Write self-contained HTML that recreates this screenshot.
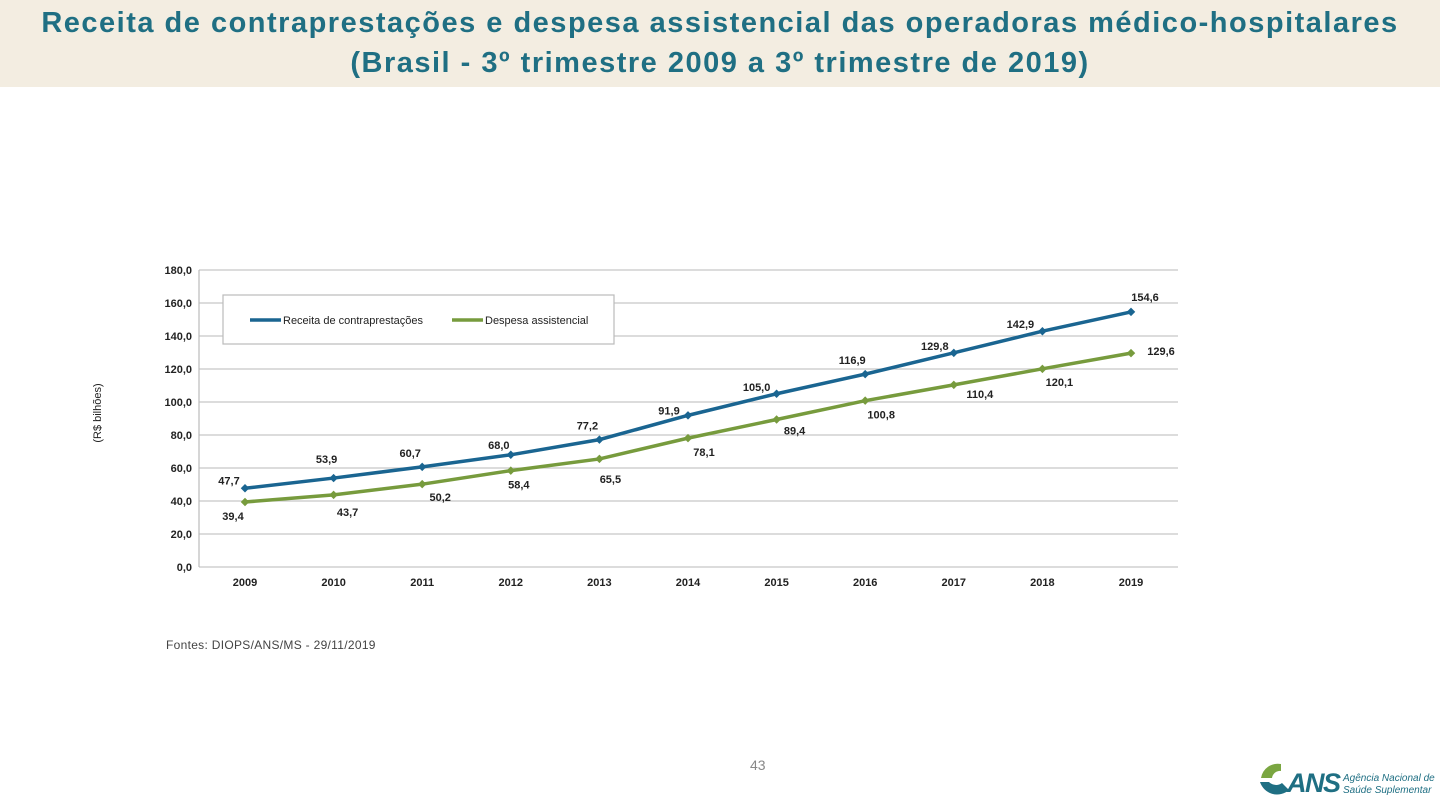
<!DOCTYPE html>
<html><head><meta charset="utf-8">
<style>
body{margin:0;width:1440px;height:810px;background:#fff;overflow:hidden;position:relative;font-family:"Liberation Sans",sans-serif}
#hdr{position:absolute;left:0;top:0;width:1440px;height:87px;background:#f3ede1}
#hdr div{text-align:center;color:#1f6f83;font-size:29px;font-weight:bold;line-height:40px;padding-top:3px;letter-spacing:1.5px;white-space:nowrap}
#src{position:absolute;left:166px;top:638px;font-size:12px;color:#444;letter-spacing:0.3px}
#pg{position:absolute;left:750px;top:757px;font-size:14px;color:#888}
text{font-family:"Liberation Sans",sans-serif}
</style></head><body>
<div id="hdr"><div>Receita de contraprestações e despesa assistencial das operadoras médico-hospitalares<br>(Brasil - 3º trimestre 2009 a 3º trimestre de 2019)</div></div>
<svg id="chart" width="1440" height="810" style="position:absolute;left:0;top:0"></svg>
<div id="src">Fontes: DIOPS/ANS/MS - 29/11/2019</div>
<div id="pg">43</div>
<svg width="185" height="50" style="position:absolute;left:1255px;top:758px">
<path d="M26 6 A17 17 0 0 0 6 20 L17 20 A8 8 0 0 1 26 13 Z" fill="#7aa641"/>
<path d="M5 24 A18 18 0 0 0 34 32 L27 25 A10 10 0 0 1 14 24 Z" fill="#1f6f83"/>
<text x="32" y="34" font-size="27" font-weight="bold" font-style="italic" fill="#1f6f83" letter-spacing="-1.5">ANS</text>
<text x="88" y="23" font-size="10" font-style="italic" fill="#1f6f83">Agência Nacional de</text>
<text x="88" y="35" font-size="10" font-style="italic" fill="#1f6f83">Saúde Suplementar</text>
</svg>
<script>
const years=["2009","2010","2011","2012","2013","2014","2015","2016","2017","2018","2019"];
const receita=[47.7,53.9,60.7,68.0,77.2,91.9,105.0,116.9,129.8,142.9,154.6];
const despesa=[39.4,43.7,50.2,58.4,65.5,78.1,89.4,100.8,110.4,120.1,129.6];
const yTicks=[0,20,40,60,80,100,120,140,160,180];
const recOff=[[-16,-8],[-7,-19],[-12,-14],[-12,-10],[-12,-14],[-19,-5],[-20,-7],[-13,-14],[-19,-7],[-22,-7],[14,-15]];
const desOff=[[-12,14],[14,17],[18,13],[8,14],[11,20],[16,14],[18,11],[16,14],[26,9],[17,13],[30,-2]];
const svg=document.getElementById('chart');const NS='http://www.w3.org/2000/svg';
const L=199,R=1178,T=270,B=567;
const x=i=>245+i*(1131-245)/(years.length-1);
const y=v=>B-(v/180)*(B-T);
const fmt=v=>v.toFixed(1).replace('.',',');
function mk(t,a,p){const e=document.createElementNS(NS,t);for(const k in a)e.setAttribute(k,a[k]);(p||svg).appendChild(e);return e;}
yTicks.forEach(v=>{
 const g=mk('line',{x1:L,x2:R,y1:y(v),y2:y(v),stroke:'#c8c8c8','stroke-width':1.2});
 
 
 const t=mk('text',{x:192,y:y(v)+4,'text-anchor':'end','font-size':11,fill:'#222','font-weight':'bold'});t.textContent=fmt(v);
 
 
});
mk('line',{x1:L,x2:L,y1:T,y2:B,stroke:'#bbb','stroke-width':1.2});
years.forEach((yr,i)=>{
 const t=mk('text',{x:x(i),y:586,'text-anchor':'middle','font-size':11,fill:'#222','font-weight':'bold'});t.textContent=yr;
 
 
});
const yt=mk('text',{x:101,y:413,'text-anchor':'middle','font-size':11,fill:'#222',transform:'rotate(-90 101 413)'});yt.textContent='(R$ bilhões)';


function series(vals,col,off,name){
 const p=mk('polyline',{points:vals.map((v,i)=>x(i)+','+y(v)).join(' '),fill:'none',stroke:col,'stroke-width':3.5});
 
 
 vals.forEach((v,i)=>{
  const m=mk('rect',{x:x(i)-3,y:y(v)-3,width:6,height:6,fill:col,transform:`rotate(45 ${x(i)} ${y(v)})`});
  
  
  const t=mk('text',{x:x(i)+off[i][0],y:y(v)+off[i][1]+4,'text-anchor':'middle','font-size':11,fill:'#222','font-weight':'bold'});t.textContent=fmt(v);
  
  
 });
}
series(receita,'#1a6591',recOff,'receita');
series(despesa,'#779b3d',desOff,'despesa');
const lg=mk('rect',{x:223,y:295,width:391,height:49,fill:'#fff',stroke:'#bbb','stroke-width':1.2});


[[250,'#1a6591','Receita de contraprestações'],[452,'#779b3d','Despesa assistencial']].forEach(([lx,c,n])=>{
 const l=mk('line',{x1:lx,x2:lx+31,y1:320,y2:320,stroke:c,'stroke-width':3.5});
 
 
 const t=mk('text',{x:lx+33,y:324,'font-size':11,fill:'#222'});t.textContent=n;
 
 
});
</script>
</body></html>
